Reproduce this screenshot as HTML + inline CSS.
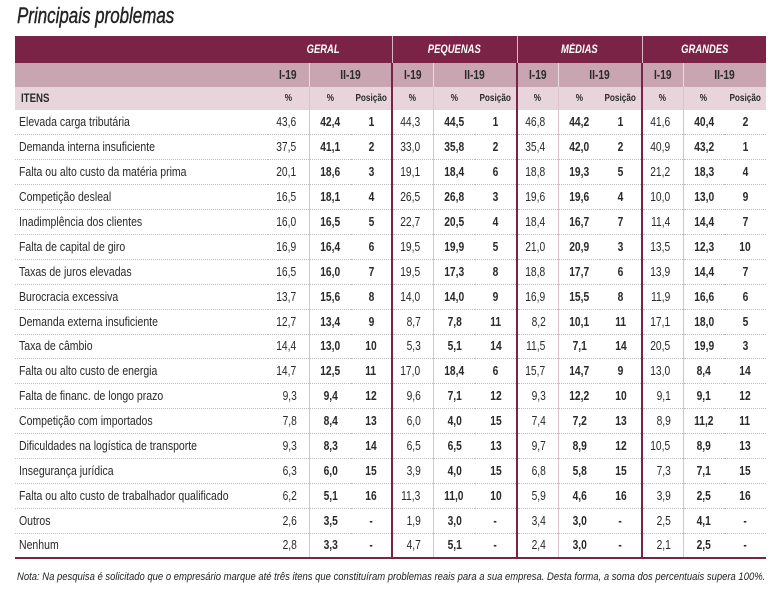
<!DOCTYPE html>
<html><head><meta charset="utf-8">
<style>
body{margin:0;width:772px;height:596px;background:#fff;font-family:"Liberation Sans",sans-serif;color:#2a2a2a;position:relative;overflow:hidden}
#title{position:absolute;left:17px;top:3px;font-size:22px;font-style:italic;color:#222;transform:scaleX(0.77);transform-origin:left;white-space:nowrap;-webkit-text-stroke:0.4px #222}
table{position:absolute;left:15px;top:36px;border-collapse:collapse;table-layout:fixed;width:751px}
td{padding:0;font-size:12.5px;text-align:center;white-space:nowrap;overflow:visible;box-sizing:border-box}
.c{display:inline-block;transform:scaleX(0.82);transform-origin:center}
.l{display:inline-block;transform:scaleX(0.84);transform-origin:left}
tr.h1 td{background:#7b2247;color:#fff;font-weight:bold;font-style:italic;height:27px;font-size:11.5px}
tr.h2 td{background:#c9a4b1;font-weight:bold;height:24px;font-size:12.5px}
tr.h3 td{background:#e8d5dc;font-weight:bold;height:23px;font-size:10px}
tr.d td{height:24.9px;border-bottom:1px dotted #bbb}
tr.d:last-child td{border-bottom:2px solid #7b2247}
td.lab{text-align:left;padding-left:4px}
td.r{text-align:right;padding-right:10px}
td.b{font-weight:bold}
.gl{border-left:2px solid #7b2247}
.sl{border-left:1px solid #dcc3cc}
tr.h1 .gl{border-left:1px solid #d9b7c3}
tr.h2 .gl,tr.h3 .gl{border-left:2px solid #7b2247}
tr.h2 .sl{border-left:1px solid #e9dde2}
#note{position:absolute;left:17px;top:571px;font-size:11px;font-style:italic;white-space:nowrap;transform:scaleX(0.86);transform-origin:left;color:#222}
</style></head><body>
<div id="title">Principais problemas</div>
<table id="tbl">
<colgroup><col style="width:253px"><col style="width:41px"><col style="width:42px"><col style="width:41px"><col style="width:41px"><col style="width:42px"><col style="width:42px"><col style="width:41px"><col style="width:42px"><col style="width:42px"><col style="width:41px"><col style="width:41px"><col style="width:42px"></colgroup>
<tbody id="tb">
<tr class="h1"><td colspan="4" style="padding-left:240px"><span class="c">GERAL</span></td><td colspan="3" class="gl"><span class="c">PEQUENAS</span></td><td colspan="3" class="gl"><span class="c">MÉDIAS</span></td><td colspan="3" class="gl"><span class="c">GRANDES</span></td></tr>
<tr class="h2"><td></td><td><span class="c">I-19</span></td><td colspan="2" class="sl"><span class="c">II-19</span></td><td class="gl"><span class="c">I-19</span></td><td colspan="2" class="sl"><span class="c">II-19</span></td><td class="gl"><span class="c">I-19</span></td><td colspan="2" class="sl"><span class="c">II-19</span></td><td class="gl"><span class="c">I-19</span></td><td colspan="2" class="sl"><span class="c">II-19</span></td></tr>
<tr class="h3"><td class="lab" style="font-size:11.5px;padding-left:6px"><span class="l">ITENS</span></td><td><span class="c">%</span></td><td class="sl"><span class="c">%</span></td><td><span class="c">Posição</span></td><td class="gl"><span class="c">%</span></td><td class="sl"><span class="c">%</span></td><td><span class="c">Posição</span></td><td class="gl"><span class="c">%</span></td><td class="sl"><span class="c">%</span></td><td><span class="c">Posição</span></td><td class="gl"><span class="c">%</span></td><td class="sl"><span class="c">%</span></td><td><span class="c">Posição</span></td></tr>
</tbody></table>
<div id="note">Nota: Na pesquisa é solicitado que o empresário marque até três itens que constituíram problemas reais para a sua empresa. Desta forma, a soma dos percentuais supera 100%.</div>
<script>
const items=["Elevada carga tributária","Demanda interna insuficiente","Falta ou alto custo da matéria prima","Competição desleal","Inadimplência dos clientes","Falta de capital de giro","Taxas de juros elevadas","Burocracia excessiva","Demanda externa insuficiente","Taxa de câmbio","Falta ou alto custo de energia","Falta de financ. de longo prazo","Competição com importados","Dificuldades na logística de transporte","Insegurança jurídica","Falta ou alto custo de trabalhador qualificado","Outros","Nenhum"];
const geralI=["43,6","37,5","20,1","16,5","16,0","16,9","16,5","13,7","12,7","14,4","14,7","9,3","7,8","9,3","6,3","6,2","2,6","2,8"];
const geralII=["42,4","41,1","18,6","18,1","16,5","16,4","16,0","15,6","13,4","13,0","12,5","9,4","8,4","8,3","6,0","5,1","3,5","3,3"];
const geralPos=["1","2","3","4","5","6","7","8","9","10","11","12","13","14","15","16","-","-"];
const pequenasI=["44,3","33,0","19,1","26,5","22,7","19,5","19,5","14,0","8,7","5,3","17,0","9,6","6,0","6,5","3,9","11,3","1,9","4,7"];
const pequenasII=["44,5","35,8","18,4","26,8","20,5","19,9","17,3","14,0","7,8","5,1","18,4","7,1","4,0","6,5","4,0","11,0","3,0","5,1"];
const pequenasPos=["1","2","6","3","4","5","8","9","11","14","6","12","15","13","15","10","-","-"];
const mediasI=["46,8","35,4","18,8","19,6","18,4","21,0","18,8","16,9","8,2","11,5","15,7","9,3","7,4","9,7","6,8","5,9","3,4","2,4"];
const mediasII=["44,2","42,0","19,3","19,6","16,7","20,9","17,7","15,5","10,1","7,1","14,7","12,2","7,2","8,9","5,8","4,6","3,0","3,0"];
const mediasPos=["1","2","5","4","7","3","6","8","11","14","9","10","13","12","15","16","-","-"];
const grandesI=["41,6","40,9","21,2","10,0","11,4","13,5","13,9","11,9","17,1","20,5","13,0","9,1","8,9","10,5","7,3","3,9","2,5","2,1"];
const grandesII=["40,4","43,2","18,3","13,0","14,4","12,3","14,4","16,6","18,0","19,9","8,4","9,1","11,2","8,9","7,1","2,5","4,1","2,5"];
const grandesPos=["2","1","4","9","7","10","7","6","5","3","14","12","11","13","15","16","-","-"];
const groups=[["geral",geralI,geralII,geralPos],["pequenas",pequenasI,pequenasII,pequenasPos],["medias",mediasI,mediasII,mediasPos],["grandes",grandesI,grandesII,grandesPos]];
const tb=document.getElementById('tb');
items.forEach((it,i)=>{
  const tr=document.createElement('tr');tr.className='d';
  
  
  const lab=document.createElement('td');lab.className='lab';
  
  
  lab.innerHTML='<span class="l">'+it+'</span>';tr.appendChild(lab);
  groups.forEach((g,gi)=>{
    const a=document.createElement('td');a.className='r'+(gi>0?' gl':'');
    
    
    a.innerHTML='<span class="c">'+g[1][i]+'</span>';tr.appendChild(a);
    const b=document.createElement('td');b.className='b sl';
    
    
    b.innerHTML='<span class="c">'+g[2][i]+'</span>';tr.appendChild(b);
    const c=document.createElement('td');c.className='b';
    
    
    c.innerHTML='<span class="c">'+g[3][i]+'</span>';tr.appendChild(c);
  });
  tb.appendChild(tr);
});
</script>
</body></html>
